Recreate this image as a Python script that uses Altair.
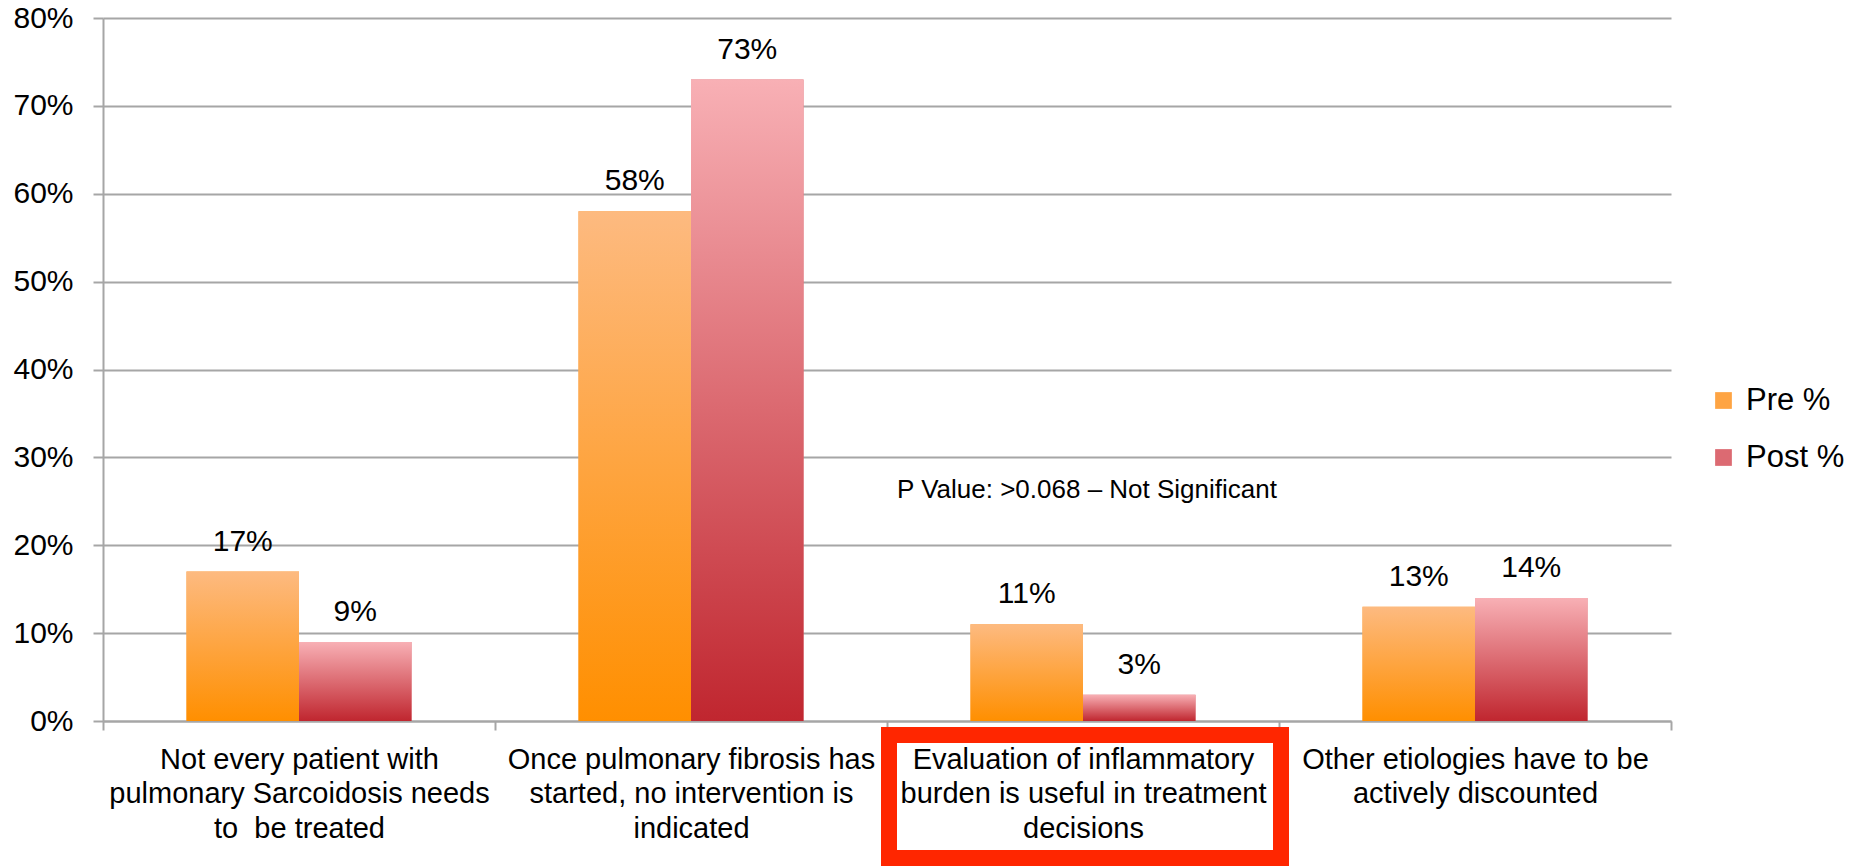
import altair as alt
import pandas as pd

# Survey statements (axis labels, with line breaks)
categories = [
    "Not every patient with\npulmonary Sarcoidosis needs\nto\u00a0 be treated",
    "Once pulmonary fibrosis has\nstarted, no intervention is\nindicated",
    "Evaluation of inflammatory\nburden is useful in treatment\ndecisions",
    "Other etiologies have to be\nactively discounted",
]
series = ["Pre %", "Post %"]
pre_values = [0.17, 0.58, 0.11, 0.13]
post_values = [0.09, 0.73, 0.03, 0.14]
y_ticks = [0.0, 0.1, 0.2, 0.3, 0.4, 0.5, 0.6, 0.7, 0.8]

note_text = "P Value: >0.068 \u2013 Not Significant"
note_category = categories[2]
note_value = 0.263
highlight_category = categories[2]

FONT = "Liberation Sans"
GRAY = "#A6A6A6"

rows = []
for cat, pre, post in zip(categories, pre_values, post_values):
    rows.append({"category": cat, "series": "Pre %", "value": pre})
    rows.append({"category": cat, "series": "Post %", "value": post})
df = pd.DataFrame(rows)

pre_gradient = alt.LinearGradient(
    gradient="linear", x1=0, x2=0, y1=0, y2=1,
    stops=[alt.GradientStop(offset=0, color="#FDBA80"),
           alt.GradientStop(offset=1, color="#FF8F00")],
)
post_gradient = alt.LinearGradient(
    gradient="linear", x1=0, x2=0, y1=0, y2=1,
    stops=[alt.GradientStop(offset=0, color="#F8B0B5"),
           alt.GradientStop(offset=1, color="#C0262F")],
)

x_enc = alt.X(
    "category:N",
    sort=categories,
    scale=alt.Scale(paddingInner=0, paddingOuter=0),
    axis=alt.Axis(
        title=None, labelAngle=0, labelExpr="split(datum.label, '\\n')",
        labelFont=FONT, labelFontSize=29, labelLineHeight=34.5, labelColor="black",
        labelPadding=15, labelLimit=600, tickSize=9, tickBand="extent",
        tickColor=GRAY, tickWidth=2, domainColor=GRAY, domainWidth=2, grid=False,
    ),
)
xoff_enc = alt.XOffset(
    "series:N", sort=series,
    scale=alt.Scale(paddingInner=0, paddingOuter=0.742),
)
y_enc = alt.Y(
    "value:Q",
    scale=alt.Scale(domain=[0, 0.8], nice=False),
    axis=alt.Axis(
        title=None, values=y_ticks, format=".0%",
        labelFont=FONT, labelFontSize=30, labelColor="black", labelPadding=20,
        tickSize=10, tickColor=GRAY, tickWidth=2,
        domainColor=GRAY, domainWidth=2, gridColor=GRAY, gridWidth=2,
    ),
)

base = alt.Chart(df)

# solid bars carry the legend; gradient bars are drawn over them
solid_bars = base.mark_bar().encode(
    x=x_enc, xOffset=xoff_enc, y=y_enc,
    color=alt.Color(
        "series:N", sort=series,
        scale=alt.Scale(domain=series, range=["#FEA443", "#DC6A72"]),
        legend=alt.Legend(
            title=None, orient="none", legendX=1605, legendY=367, padding=0,
            symbolType="square", symbolSize=280, symbolStrokeWidth=0,
            labelFont=FONT, labelFontSize=31, labelColor="black",
            labelOffset=7, rowPadding=25,
        ),
    ),
)

gradient_bars = base.mark_bar().encode(
    x=x_enc, xOffset=xoff_enc, y=y_enc,
    fill=alt.condition(
        "datum.series === 'Pre %'", alt.value(pre_gradient), alt.value(post_gradient)
    ),
)

bar_labels = base.mark_text(
    font=FONT, fontSize=30, color="black", baseline="alphabetic", dy=-21
).encode(
    x=x_enc, xOffset=xoff_enc, y=y_enc,
    text=alt.Text("value:Q", format=".0%"),
)

note = alt.Chart(
    pd.DataFrame({"category": [note_category], "value": [note_value], "label": [note_text]})
).mark_text(
    font=FONT, fontSize=26, color="black", baseline="middle", align="center", dx=4
).encode(x=x_enc, y=y_enc, text="label:N")

highlight = alt.Chart(
    pd.DataFrame({"category": [highlight_category]})
).mark_rect(
    fillOpacity=0, stroke="#FF2600", strokeWidth=16, xOffset=2, x2Offset=10
).encode(x=x_enc, y=alt.value(717), y2=alt.value(840))

chart = alt.layer(
    solid_bars, gradient_bars, bar_labels, note, highlight
).properties(
    width=1568, height=703,
    autosize=alt.AutoSizeParams(type="none"),
    padding={"left": 103, "top": 18, "right": 183, "bottom": 147},
    background="white",
).configure_view(stroke=None)

chart.save("out.html", embed_options={"renderer": "svg", "actions": False})
